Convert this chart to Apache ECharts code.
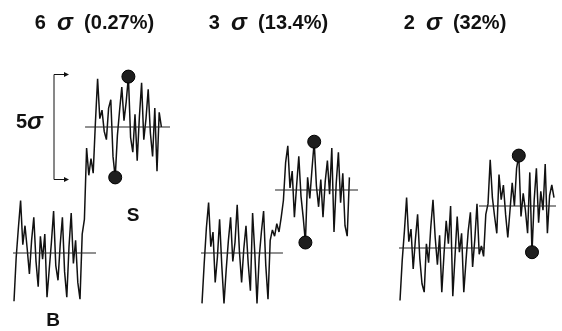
<!DOCTYPE html>
<html>
<head>
<meta charset="utf-8">
<script src="https://cdn.jsdelivr.net/npm/echarts@6/dist/echarts.min.js"></script>
<style>
  html, body { margin: 0; padding: 0; background: #fff; }
  #chart { width: 562px; height: 331px; }
</style>
</head>
<body>
<div id="chart"></div>
<script>
// step heights in sigma units, one per panel
const stepSizes = [6, 3, 2]
const stepLabels = ["6", "3", "2"]
const overlapLabels = ["0.27%", "13.4%", "32%"]

// background noise (sigma, relative to baseline)
const noiseB1 = [-2.3, -0.2, 1.2, 2.5, 0.4, 1.3, 0.2, -1.0, 0.6, 1.7, -0.4, -1.6, 0.8, -0.3, 0.9, -2.1,
  -0.8, 0.5, 2.0, -0.6, -1.3, 0.4, 1.7, -0.9, -2.1, 0.3, 1.9, -0.5, 0.6, -1.4, -2.2, 0.9]
const noiseB2 = [-2.4, -0.5, 1.2, 2.4, 0.3, 1.0, -1.4, -0.2, 1.6, -0.6, -2.4, -0.8, 0.6, 1.7, -0.4, 0.5,
  2.3, 0.1, -1.4, 0.2, 1.3, -0.5, -1.8, 1.9, 0.0, -2.4, -0.2, 1.0, 2.0, -0.6, -2.2]
const noiseB3 = [-2.5, -0.6, 0.8, 2.4, 0.3, 0.9, -1.0, 0.4, 1.6, -0.5, -1.7, -2.1, 0.2, -0.7, 1.0, 2.3,
  0.5, -0.8, 0.6, -2.1, -0.3, 1.3, 0.2, 2.0, -2.3, -0.4, 1.5, -0.2, 0.7, -2.1, -0.6, 0.8,
  1.7, -0.9, 0.4, 2.1, -0.3, 0.1]

// transition samples (sigma, relative to baseline)
const rise1 = [1.6, 5.0, 3.7, 4.5, 3.8, 6.2]
const rise2 = [0.6, 1.1, 0.8, 1.4, 1.0, 1.7, 2.5]
const rise3 = [-0.4, 1.6]

// signal noise (sigma, relative to the signal level)
const noiseS1 = [2.3, 0.4, 0.8, -0.2, -0.6, 0.9, 1.3, -1.4, -2.4, -0.4, 0.8, 1.9, 0.3, 1.2, 2.4,
  -0.5, -1.2, 0.6, -1.6, 0.5, 2.1, -0.6, 0.4, 1.8, -0.3, -1.4, 0.9, -2.1, 0.7, 0.0]
const noiseS2 = [1.3, 2.1, 0.1, 0.9, -1.3, 0.2, 1.6, -0.3, -1.3, -2.5, 0.6, -0.4, 1.0, 2.3, 0.2,
  -0.8, 0.5, -1.3, 0.4, 1.4, -0.2, 2.0, -2.0, 0.3, 1.8, -0.6, 0.8, -1.7, -2.2, 0.6]
const noiseS3 = [0.1, 2.2, 0.4, -0.5, -1.3, 1.5, 0.3, 1.0, -0.4, -1.5, -0.2, 1.1, 0.0, 1.8, 2.4,
  -0.5, 0.6, -0.2, -1.3, 1.6, -2.2, 0.3, 1.8, -0.8, 0.7, -0.2, 2.0, -1.3, 0.5, 1.0, 0.4]

const panels = [
  { B: noiseB1, rise: rise1, S: noiseS1 },
  { B: noiseB2, rise: rise2, S: noiseS2 },
  { B: noiseB3, rise: rise3, S: noiseS3 },
]

// layout (pixels / sample index units)
const DX = 2.2
const SIG = 21
const startX = [14, 202, 400]
const baseY = [253, 253, 248]
const baseSpan = [[-3.2, 37.3], [-6.4, 36.8], [-6.8, 38.6]]
const levelSpan = [[32.3, 74.1], [33.2, 73.2], [35.9, 73.6]]
const titleX = [94.5, 268.5, 455]

const INK = "#111"
const FONT = "Liberation Sans"

const grid = [], xAxis = [], yAxis = [], series = []

panels.forEach((p, g) => {
  grid.push({ left: startX[g], top: baseY[g] - 9 * SIG, width: 70 * DX, height: 12 * SIG })
  xAxis.push({ type: "value", gridIndex: g, min: 0, max: 70, show: false })
  yAxis.push({ type: "value", gridIndex: g, min: -3, max: 9, show: false })

  const step = stepSizes[g]
  const sStart = p.B.length + p.rise.length
  const values = [...p.B, ...p.rise, ...p.S.map((v) => v + step)]
  const signal = values.map((v, i) => [i, v])

  series.push({
    type: "line", xAxisIndex: g, yAxisIndex: g, data: signal,
    showSymbol: false, clip: false, silent: true,
    lineStyle: { color: INK, width: 1.5 },
  })
  series.push({
    type: "line", xAxisIndex: g, yAxisIndex: g, showSymbol: false, clip: false, silent: true,
    data: [[baseSpan[g][0], 0], [baseSpan[g][1], 0]],
    lineStyle: { color: "#222", width: 1.2 },
  })
  series.push({
    type: "line", xAxisIndex: g, yAxisIndex: g, showSymbol: false, clip: false, silent: true,
    data: [[levelSpan[g][0], step], [levelSpan[g][1], step]],
    lineStyle: { color: "#222", width: 1.2 },
  })

  // mark the extremes of the signal section
  const sMax = Math.max(...p.S), sMin = Math.min(...p.S)
  const iMax = sStart + p.S.indexOf(sMax), iMin = sStart + p.S.indexOf(sMin)
  series.push({
    type: "scatter", xAxisIndex: g, yAxisIndex: g, clip: false, silent: true,
    data: [[iMax, sMax + step], [iMin, sMin + step]],
    symbolSize: 13,
    itemStyle: { color: "#1e1e1e", borderColor: "#000", borderWidth: 1, opacity: 1 },
    z: 5,
  })
})

const chart = echarts.init(document.getElementById("chart"), null, { renderer: "canvas" })
chart.setOption({
  animation: false,
  backgroundColor: "#fff",
  grid, xAxis, yAxis, series,
})

// annotations
const rich = {
  n: { fontFamily: FONT, fontWeight: "bold", fontSize: 20, fill: INK, color: INK },
  s: { fontFamily: FONT, fontWeight: "bold", fontStyle: "italic", fontSize: 24, fill: INK, color: INK },
}
const graphic = stepLabels.map((lab, g) => ({
  type: "text",
  x: titleX[g], y: 23,
  style: {
    text: `{n|${lab}  }{s|σ}{n|  (${overlapLabels[g]})}`,
    rich,
    align: "center", verticalAlign: "middle",
  },
}))

// 5 sigma bracket on the first panel
const lvl = stepSizes[0]
const brTop = chart.convertToPixel({ gridIndex: 0 }, [0, lvl + 2.5])[1]
const brBot = chart.convertToPixel({ gridIndex: 0 }, [0, lvl - 2.5])[1]
const bx = 54, ax = 68
graphic.push(
  { type: "polyline", shape: { points: [[ax, brTop], [bx, brTop], [bx, brBot], [ax, brBot]] },
    style: { stroke: INK, lineWidth: 1, fill: null } },
  { type: "polygon", shape: { points: [[ax + 1, brTop], [ax - 4, brTop - 2.5], [ax - 4, brTop + 2.5]] },
    style: { fill: INK } },
  { type: "polygon", shape: { points: [[ax + 1, brBot], [ax - 4, brBot - 2.5], [ax - 4, brBot + 2.5]] },
    style: { fill: INK } },
  { type: "text", x: 29.5, y: (brTop + brBot) / 2 - 5,
    style: { text: "{n|5}{s|σ}", rich, align: "center", verticalAlign: "middle" } },
  { type: "text", x: 133, y: 216,
    style: { text: "S", font: `bold 19px "${FONT}"`, fill: INK, align: "center", verticalAlign: "middle" } },
  { type: "text", x: 53, y: 321,
    style: { text: "B", font: `bold 19px "${FONT}"`, fill: INK, align: "center", verticalAlign: "middle" } },
)
chart.setOption({ graphic })
</script>
</body>
</html>
